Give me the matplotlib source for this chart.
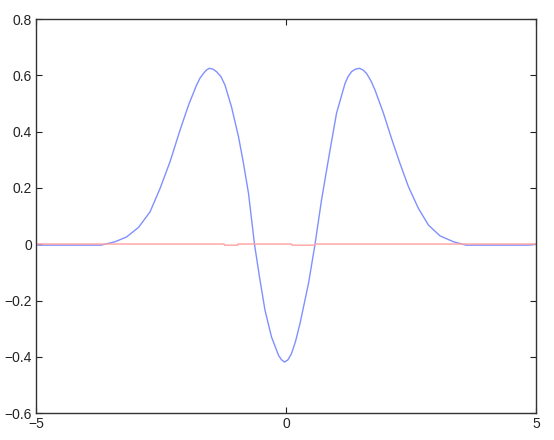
import matplotlib
import matplotlib.pyplot as plt

matplotlib.use('Agg')
plt.rcParams['font.family'] = ['Liberation Sans', 'DejaVu Sans']

# blue curve
xBlue = [-5.0, -4.95, -3.7, -3.42, -3.19, -2.95, -2.72, -2.52, -2.32, -2.12, -1.95,
         -1.79, -1.72, -1.65, -1.59, -1.53, -1.46, -1.39, -1.30, -1.22, -1.09, -0.95,
         -0.85, -0.75, -0.63, -0.53, -0.42, -0.29, -0.15, -0.09, -0.03, 0.04, 0.11,
         0.19, 0.28, 0.45, 0.58, 0.71, 0.88, 1.01, 1.18, 1.24, 1.31, 1.39, 1.47,
         1.54, 1.61, 1.70, 1.78, 1.95, 2.11, 2.28, 2.45, 2.65, 2.85, 3.08, 3.35,
         3.6, 4.85, 5.0]
yBlue = [0.0, -0.003, -0.003, 0.009, 0.026, 0.06, 0.115, 0.198, 0.293, 0.405, 0.494,
         0.565, 0.59, 0.607, 0.619, 0.625, 0.622, 0.613, 0.595, 0.565, 0.488, 0.382,
         0.287, 0.181, 0.0, -0.116, -0.234, -0.329, -0.394, -0.410, -0.418, -0.410, -0.388,
         -0.345, -0.281, -0.139, 0.0, 0.157, 0.334, 0.465, 0.571, 0.595, 0.613, 0.622, 0.625,
         0.619, 0.607, 0.58, 0.548, 0.465, 0.376, 0.287, 0.204, 0.127, 0.068, 0.03, 0.009,
         -0.003, -0.003, 0.0]

# red curve, nearly flat with two small dips
xRed = [-5.0, -1.24, -1.23, -0.97, -0.96, 0.11, 0.12, 0.58, 0.59, 5.0]
yRed = [0.001, 0.001, -0.003, -0.003, 0.001, 0.001, -0.003, -0.003, 0.001, 0.001]

xticks = [-5, 0, 5]
yticks = [-0.6, -0.4, -0.2, 0, 0.2, 0.4, 0.6, 0.8]
yticklabels = ['\u22120.6', '\u22120.4', '\u22120.2', '0', '0.2', '0.4', '0.6', '0.8']
xticklabels = ['\u22125', '0', '5']

fig = plt.figure(figsize=(5.54, 4.40), dpi=100)
ax = fig.add_axes([0.065, 0.0607, 0.9025, 0.8961])

ax.plot(xBlue, yBlue, color='#8090ff', linewidth=1.0)
ax.plot(xRed, yRed, color='#ffa0a0', linewidth=1.0)

ax.set_xlim(-5, 5)
ax.set_ylim(-0.6, 0.8)
ax.set_xticks(xticks)
ax.set_xticklabels(xticklabels)
ax.set_yticks(yticks)
ax.set_yticklabels(yticklabels)

ax.tick_params(direction='in', length=4, width=0.8, top=True, right=True,
               labelsize=10, colors='#222222', pad=3)
for s in ax.spines.values():
    s.set_color('#333333')
    s.set_linewidth(1.0)

fig.savefig('out.png', dpi=100)
plt.close(fig)
